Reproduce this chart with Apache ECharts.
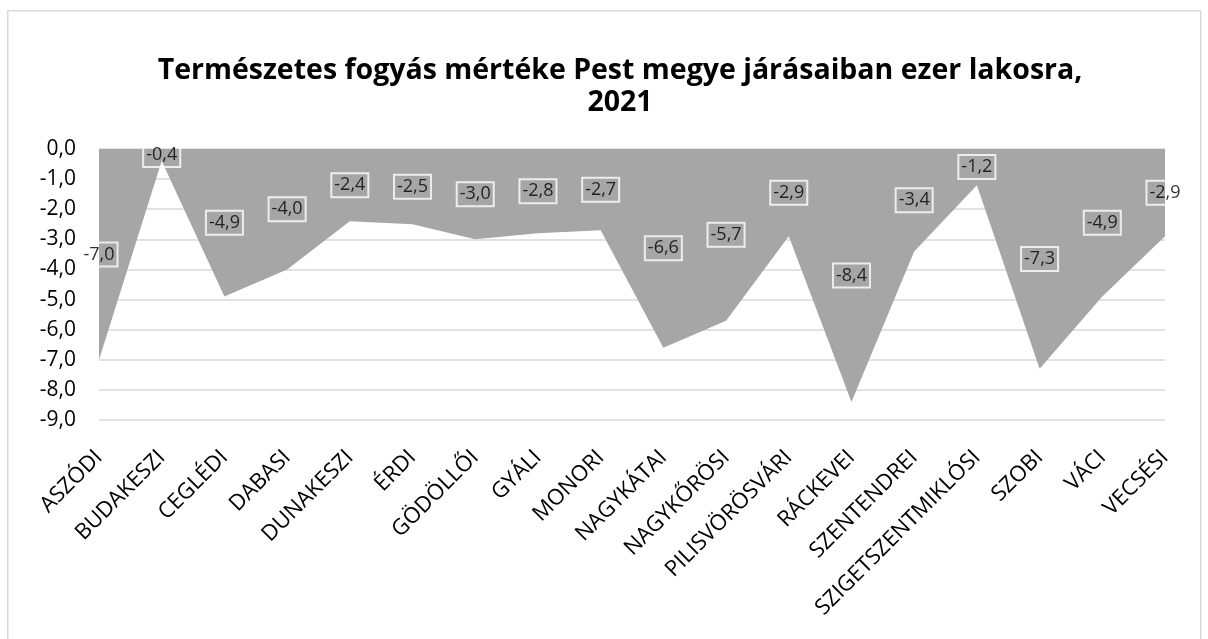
<!DOCTYPE html>
<html>
<head>
<meta charset="utf-8">
<script src="https://cdn.jsdelivr.net/npm/echarts@6/dist/echarts.min.js"></script>
<style>html,body{margin:0;padding:0;background:#fff;}#c{width:1208px;height:639px;}</style>
</head>
<body>
<div id="c"></div>
<script>
const categories = ['ASZÓDI','BUDAKESZI','CEGLÉDI','DABASI','DUNAKESZI','ÉRDI','GÖDÖLLŐI','GYÁLI','MONORI','NAGYKÁTAI','NAGYKŐRÖSI','PILISVÖRÖSVÁRI','RÁCKEVEI','SZENTENDREI','SZIGETSZENTMIKLÓSI','SZOBI','VÁCI','VECSÉSI'];
const values = [-7.0,-0.4,-4.9,-4.0,-2.4,-2.5,-3.0,-2.8,-2.7,-6.6,-5.7,-2.9,-8.4,-3.4,-1.2,-7.3,-4.9,-2.9];
const yTicks = [0,-1,-2,-3,-4,-5,-6,-7,-8,-9];
const titleText = 'Természetes fogyás mértéke Pest megye járásaiban ezer lakosra,\n2021';

const fmt = v => v.toFixed(1).replace('.', ',');
const FONT = '"Open Sans", "Noto Sans", sans-serif';

const chart = echarts.init(document.getElementById('c'));
chart.setOption({
  animation: false,
  backgroundColor: '#fff',
  graphic: [{
    type: 'rect', left: 7, top: 10, z: -10,
    shape: { width: 1193, height: 640 },
    style: { fill: '#fff', stroke: '#d9d9d9', lineWidth: 1.5 }
  }],
  title: {
    text: titleText,
    left: 615, top: 50, textAlign: 'center',
    textStyle: { fontFamily: FONT, fontSize: 28.5, fontWeight: 'bold', color: '#000', lineHeight: 32 }
  },
  grid: { left: 99, right: 43, top: 149, bottom: 219, containLabel: false },
  xAxis: {
    type: 'category', data: categories, boundaryGap: false,
    axisLine: { show: false, onZero: false }, axisTick: { show: false },
    splitLine: { show: false },
    axisLabel: { rotate: 45, interval: 0, fontFamily: FONT, fontSize: 22, color: '#000', margin: 34 }
  },
  yAxis: {
    type: 'value', min: Math.min(...yTicks), max: Math.max(...yTicks), interval: 1,
    axisLine: { show: false }, axisTick: { show: false },
    splitLine: { lineStyle: { color: '#d9d9d9', width: 1.5 } },
    axisLabel: { formatter: v => fmt(v), fontFamily: FONT, fontSize: 21, color: '#000', margin: 23 }
  },
  series: [{
    type: 'line', data: values, symbol: 'none',
    lineStyle: { width: 0 },
    areaStyle: { color: '#a6a6a6', opacity: 1, origin: 'end' }
  }, {
    type: 'scatter', symbolSize: 0, clip: false, z: 5,
    data: values.map((v, i) => [i, v / 2]),
    label: {
      show: true, position: 'inside',
      formatter: p => fmt(values[p.dataIndex]),
      fontFamily: FONT, fontSize: 18, color: '#000',
      borderColor: '#fff', borderWidth: 2, padding: [4, 3, 2, 3]
    }
  }]
});
</script>
</body>
</html>
